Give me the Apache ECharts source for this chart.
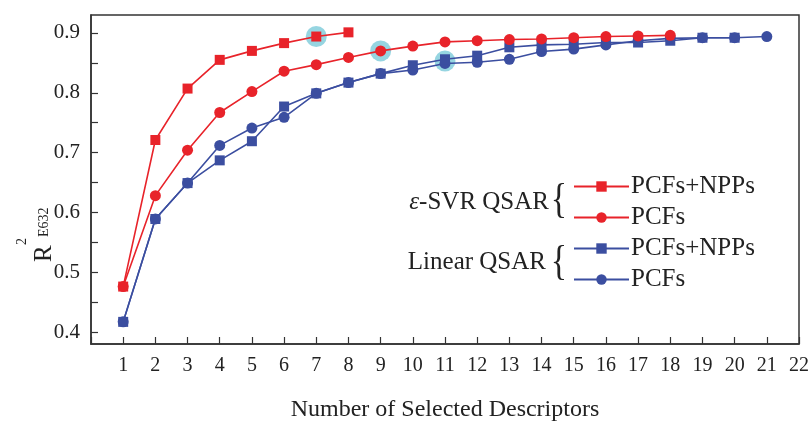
<!DOCTYPE html>
<html>
<head>
<meta charset="utf-8">
<script src="https://cdn.jsdelivr.net/npm/echarts@6/dist/echarts.min.js"></script>
<style>html,body{margin:0;padding:0;background:#fff}#c{width:812px;height:427px}</style>
</head>
<body>
<div id="c"></div>
<script>
// ---- data ----
const svrFullX = [1, 2, 3, 4, 5, 6, 7, 8];
const svrFullY = [0.476, 0.721, 0.807, 0.855, 0.870, 0.883, 0.894, 0.901];
const svrPcfX = [1, 2, 3, 4, 5, 6, 7, 8, 9, 10, 11, 12, 13, 14, 15, 16, 17, 18];
const svrPcfY = [0.476, 0.628, 0.704, 0.767, 0.802, 0.836, 0.847, 0.859, 0.870, 0.878, 0.885, 0.887, 0.889, 0.890, 0.892, 0.894, 0.895, 0.896];
const linFullX = [1, 2, 3, 4, 5, 6, 7, 8, 9, 10, 11, 12, 13, 14, 15, 16, 17, 18, 19, 20];
const linFullY = [0.417, 0.589, 0.649, 0.687, 0.719, 0.777, 0.799, 0.817, 0.832, 0.846, 0.856, 0.862, 0.876, 0.880, 0.881, 0.884, 0.884, 0.887, 0.892, 0.892];
const linPcfX = [1, 2, 3, 4, 5, 6, 7, 8, 9, 10, 11, 12, 13, 14, 15, 16, 17, 18, 19, 20, 21];
const linPcfY = [0.417, 0.589, 0.649, 0.712, 0.741, 0.759, 0.799, 0.817, 0.832, 0.838, 0.849, 0.851, 0.856, 0.869, 0.873, 0.880, 0.887, 0.891, 0.892, 0.892, 0.894];
const highlightX = [7, 9, 11];
const highlightY = [0.894, 0.870, 0.853];
const yTicks = [0.4, 0.45, 0.5, 0.55, 0.6, 0.65, 0.7, 0.75, 0.8, 0.85, 0.9];
const yLabels = [0.4, 0.5, 0.6, 0.7, 0.8, 0.9];
const seriesNames = ['SVR PCFs+NPPs', 'SVR PCFs', 'Linear PCFs+NPPs', 'Linear PCFs'];
const legendLabels = ['PCFs+NPPs', 'PCFs', 'PCFs+NPPs', 'PCFs'];

const zip = (xs, ys) => xs.map((x, i) => [x, ys[i]]);
const FONT = '"Liberation Serif", "Times New Roman", serif';
const RED = '#e8232a', BLUE = '#3b4ea0', CYAN = '#7ccbd9', AXIS = '#333';

const chart = echarts.init(document.getElementById('c'), null, {renderer: 'canvas'});
const lineSeries = (name, xs, ys, color, symbol, size, z) => ({
  name, type: 'line', data: zip(xs, ys), symbol, symbolSize: size,
  itemStyle: {color}, lineStyle: {color, width: 1.6}, z, animation: false
});

chart.setOption({
  animation: false,
  grid: {left: 91, top: 15, right: 10, bottom: 70, show: true, borderColor: AXIS, borderWidth: 1.5},
  xAxis: {
    type: 'value', min: 0, max: 22, interval: 1,
    axisLine: {show: true, lineStyle: {color: AXIS, width: 1.5}},
    axisTick: {show: true, inside: true, length: 7, lineStyle: {color: AXIS, width: 1.2}},
    axisLabel: {color: '#222', fontFamily: FONT, fontSize: 20, margin: 12,
      formatter: v => (v >= 1 && Number.isInteger(v)) ? String(v) : ''},
    splitLine: {show: false},
    name: 'Number of Selected Descriptors', nameLocation: 'middle', nameGap: 54,
    nameTextStyle: {color: '#222', fontFamily: FONT, fontSize: 24}
  },
  yAxis: {
    type: 'value', min: 0.38, max: 0.93,
    axisLine: {show: true, lineStyle: {color: AXIS, width: 1.5}},
    axisTick: {show: true, inside: true, length: 7, customValues: yTicks, lineStyle: {color: AXIS, width: 1.2}},
    axisLabel: {color: '#222', fontFamily: FONT, fontSize: 21, margin: 11, customValues: yLabels,
      formatter: v => v.toFixed(1)},
    splitLine: {show: false}
  },
  legend: {
    orient: 'vertical', left: 568, top: 169, itemWidth: 55, itemHeight: 13, itemGap: 6,
    data: seriesNames, selectedMode: false,
    formatter: name => legendLabels[seriesNames.indexOf(name)],
    textStyle: {color: '#222', fontFamily: FONT, fontSize: 25, padding: [0, 0, 0, -3]}
  },
  graphic: [
    {type: 'text', x: 549, y: 202, z: 10,
      style: {text: '{e|ε}-SVR QSAR', align: 'right', verticalAlign: 'middle', fill: '#222',
        font: '25px ' + FONT,
        rich: {e: {fontStyle: 'italic', fontSize: 25, fontFamily: FONT, fill: '#222'}}}},
    {type: 'text', x: 559, y: 201, z: 10, scaleY: 1.25,
      style: {text: '{', align: 'center', verticalAlign: 'middle', fill: '#222', font: '34px ' + FONT}},
    {type: 'text', x: 546, y: 262, z: 10,
      style: {text: 'Linear QSAR', align: 'right', verticalAlign: 'middle', fill: '#222', font: '25px ' + FONT}},
    {type: 'text', x: 559, y: 263, z: 10, scaleY: 1.25,
      style: {text: '{', align: 'center', verticalAlign: 'middle', fill: '#222', font: '34px ' + FONT}},
    {type: 'group', x: 32, y: 262, rotation: Math.PI / 2, z: 10, children: [
      {type: 'text', x: 0, y: 0, style: {text: 'R', align: 'left', verticalAlign: 'alphabetic', fill: '#222', font: '25px ' + FONT}},
      {type: 'text', x: 17, y: -17, style: {text: '2', align: 'left', verticalAlign: 'alphabetic', fill: '#222', font: '14px ' + FONT}},
      {type: 'text', x: 25, y: 5, style: {text: 'E632', align: 'left', verticalAlign: 'alphabetic', fill: '#222', font: '14px ' + FONT}}
    ]}
  ],
  series: [
    {name: 'highlight', type: 'scatter', data: zip(highlightX, highlightY), symbol: 'circle', symbolSize: 21,
      itemStyle: {color: CYAN}, z: 1, silent: true},
    lineSeries(seriesNames[3], linPcfX, linPcfY, BLUE, 'circle', 11, 2),
    lineSeries(seriesNames[2], linFullX, linFullY, BLUE, 'rect', 10, 3),
    lineSeries(seriesNames[1], svrPcfX, svrPcfY, RED, 'circle', 11, 4),
    lineSeries(seriesNames[0], svrFullX, svrFullY, RED, 'rect', 10, 5)
  ]
});
</script>
</body>
</html>
